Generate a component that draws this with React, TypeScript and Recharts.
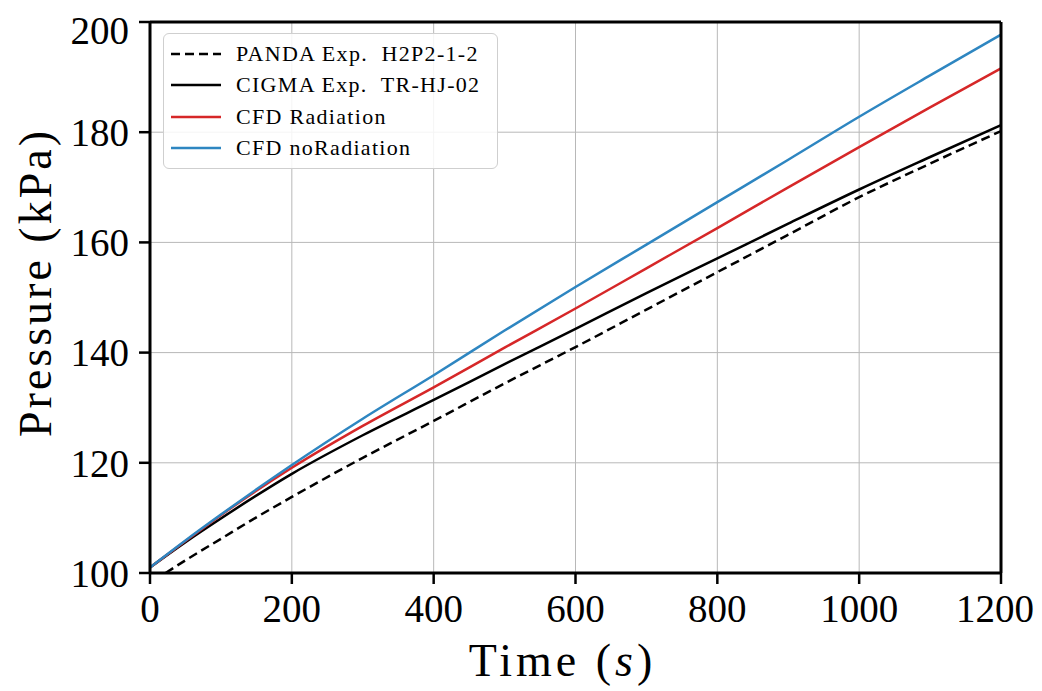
import { LineChart, Line, XAxis, YAxis, CartesianGrid, Legend } from 'recharts';

// time (s) for the CFD runs and the CIGMA test
const simTime = [0, 50, 100, 200, 300, 400, 500, 600, 700, 800, 900, 1000, 1100, 1200];
// PANDA starts a bit later
const pandaTime = [22, 50, 100, 150, 200, 300, 400, 500, 600, 700, 800, 900, 1000, 1100, 1200];

const pandaP = [100, 102.3, 106.2, 110.1, 113.8, 120.9, 127.6, 134.4, 141.0, 147.8, 154.6, 161.4, 168.2, 174.3, 180.2];
const cigmaP = [101, 105.6, 109.9, 118.0, 125.0, 131.4, 137.9, 144.3, 150.8, 157.1, 163.4, 169.6, 175.5, 181.3];
const radP = [101, 105.8, 110.5, 119.1, 126.7, 133.7, 140.9, 148.0, 155.3, 162.6, 170.0, 177.3, 184.5, 191.6];
const noRadP = [101, 105.9, 110.6, 119.6, 128.0, 135.9, 144.0, 151.9, 159.6, 167.3, 175.0, 182.8, 190.3, 197.7];

const xMajor = [0, 200, 400, 600, 800, 1000, 1200];
const xMinor = [0, 40, 80, 120, 160, 200, 240, 280, 320, 360, 400, 440, 480, 520, 560, 600, 640, 680, 720, 760, 800, 840, 880, 920, 960, 1000, 1040, 1080, 1120, 1160, 1200];
const yMajor = [100, 120, 140, 160, 180, 200];
const yMinor = [100, 105, 110, 115, 120, 125, 130, 135, 140, 145, 150, 155, 160, 165, 170, 175, 180, 185, 190, 195, 200];

const toPts = (ts: number[], ps: number[]) => ts.map((t, i) => ({ t, p: ps[i] }));

const series = [
  { name: 'PANDA Exp.  H2P2-1-2', data: toPts(pandaTime, pandaP), color: '#000000', dash: '9 5' },
  { name: 'CIGMA Exp.  TR-HJ-02', data: toPts(simTime, cigmaP), color: '#000000', dash: undefined },
  { name: 'CFD Radiation', data: toPts(simTime, radP), color: '#d62728', dash: undefined },
  { name: 'CFD noRadiation', data: toPts(simTime, noRadP), color: '#2e86c1', dash: undefined },
];

const FONT = '"Liberation Serif", "Times New Roman", serif';
const tickStyle = { fontSize: 39, fill: '#000', fontFamily: FONT };

const LegendBox = () => (
  <div
    style={{
      border: '1px solid #cfcfcf',
      borderRadius: 6,
      background: 'rgba(255,255,255,0.85)',
      padding: '4px 10px 4px 7px',
      fontFamily: FONT,
      fontSize: 22,
      letterSpacing: 1.3,
      color: '#000',
      width: 316,
      whiteSpace: 'pre',
    }}
  >
    {series.map((s) => (
      <div key={s.name} style={{ display: 'flex', alignItems: 'center', height: 31.5 }}>
        <svg width={50} height={10} style={{ marginRight: 15 }}>
          <line x1={0} y1={5} x2={50} y2={5} stroke={s.color} strokeWidth={2.5} strokeDasharray={s.dash} />
        </svg>
        <span>{s.name}</span>
      </div>
    ))}
  </div>
);

export default function App() {
  return (
    <LineChart width={1026} height={683} margin={{ top: 13, right: 32, left: 140, bottom: 116 }}>
      <CartesianGrid stroke="#b8b8b8" strokeWidth={1} />
      <XAxis
        dataKey="t"
        type="number"
        domain={[0, 1200]}
        ticks={xMajor}
        height={1}
        allowDuplicatedCategory={false}
        axisLine={{ stroke: '#000', strokeWidth: 3 }}
        tickLine={{ stroke: '#000', strokeWidth: 2.5 }}
        tickSize={11}
        tickMargin={10}
        tick={tickStyle}
        label={(props: any) => {
          const vb = props.viewBox;
          return (
            <text x={vb.x + vb.width / 2 - 13} y={vb.y + 103} textAnchor="middle" fontFamily={FONT} fontSize={46} letterSpacing={4} fill="#000">
              Time (<tspan fontStyle="italic">s</tspan>)
            </text>
          );
        }}
      />
      <XAxis
        xAxisId="minor"
        dataKey="t"
        type="number"
        domain={[0, 1200]}
        ticks={xMinor}
        height={1}
        axisLine={false}
        tickLine={{ stroke: '#000', strokeWidth: 2 }}
        tickSize={7}
        tick={false}
      />
      <XAxis xAxisId="top" orientation="top" type="number" domain={[0, 1200]} height={1} tick={false} tickLine={false} axisLine={{ stroke: '#000', strokeWidth: 3 }} />
      <YAxis
        type="number"
        domain={[100, 200]}
        ticks={yMajor}
        width={1}
        axisLine={{ stroke: '#000', strokeWidth: 3 }}
        tickLine={{ stroke: '#000', strokeWidth: 2.5 }}
        tickSize={11}
        tickMargin={10}
        tick={tickStyle}
        label={(props: any) => {
          const vb = props.viewBox;
          const cx = 27;
          const cy = vb.y + vb.height / 2 - 15;
          return (
            <text x={cx} y={cy} transform={`rotate(-90 ${cx} ${cy})`} textAnchor="middle" dominantBaseline="central" fontFamily={FONT} fontSize={46} letterSpacing={3} fill="#000">
              Pressure (kPa)
            </text>
          );
        }}
      />
      <YAxis
        yAxisId="minor"
        type="number"
        domain={[100, 200]}
        ticks={yMinor}
        width={1}
        axisLine={false}
        tickLine={{ stroke: '#000', strokeWidth: 2 }}
        tickSize={7}
        tick={false}
      />
      <YAxis yAxisId="right" orientation="right" type="number" domain={[100, 200]} width={1} tick={false} tickLine={false} axisLine={{ stroke: '#000', strokeWidth: 3 }} />
      {series.map((s) => (
        <Line
          key={s.name}
          data={s.data}
          dataKey="p"
          name={s.name}
          type="monotone"
          stroke={s.color}
          strokeWidth={2.5}
          strokeDasharray={s.dash}
          dot={false}
          activeDot={false}
          isAnimationActive={false}
        />
      ))}
      <Legend
        layout="horizontal"
        verticalAlign="middle"
        align="center"
        content={<LegendBox />}
        wrapperStyle={{ position: 'absolute', left: 155, top: 25, width: 'auto', height: 'auto' }}
      />
    </LineChart>
  );
}
